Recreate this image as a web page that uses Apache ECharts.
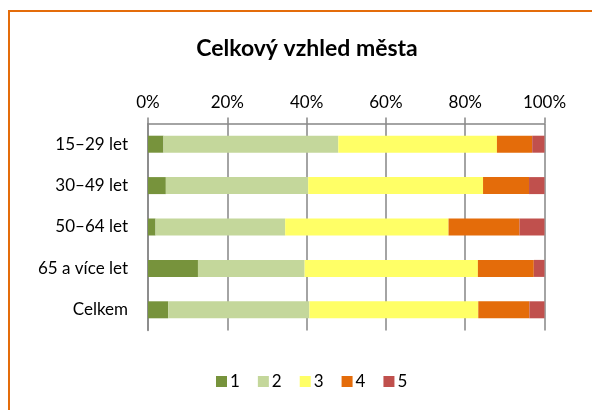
<!DOCTYPE html>
<html>
<head>
<meta charset="utf-8">
<script src="https://cdn.jsdelivr.net/npm/echarts@6/dist/echarts.min.js"></script>
<style>
  html, body { margin: 0; padding: 0; background: #fff; }
  .frame {
    position: absolute; left: 8px; top: 10px; width: 584px; height: 400px;
    border-top: 2px solid #e46c0a; border-left: 2px solid #e46c0a;
    box-sizing: border-box;
  }
  #chart { position: absolute; left: 0; top: 0; width: 592px; height: 410px; }
</style>
</head>
<body>
<div class="frame"></div>
<div id="chart"></div>
<script>
// věkové skupiny
const categories = ["15–29 let", "30–49 let", "50–64 let", "65 a více let", "Celkem"];
// podíly hodnocení 1–5 (%)
const s1 = [3.9, 4.5, 1.9, 12.6, 5.1];
const s2 = [44.1, 35.9, 32.7, 26.9, 35.6];
const s3 = [40.0, 44.1, 41.2, 43.7, 42.6];
const s4 = [8.9, 11.6, 17.9, 14.1, 12.9];
const s5 = [3.1, 3.9, 6.3, 2.7, 3.8];
const seriesNames = ["1", "2", "3", "4", "5"];
const colors = ["#77933c", "#c4d79b", "#ffff66", "#e46c0a", "#c0504d"];

const font = "Lato, 'Open Sans', sans-serif";
const allData = [s1, s2, s3, s4, s5];

const chart = echarts.init(document.getElementById("chart"));
chart.setOption({
  animation: false,
  title: {
    text: "Celkový vzhled města",
    left: 302, top: 32, textAlign: "center",
    textStyle: { fontFamily: font, fontSize: 23, fontWeight: "bold", color: "#000" }
  },
  legend: {
    data: seriesNames,
    bottom: 15, left: 211,
    itemWidth: 11, itemHeight: 11, itemGap: 18,
    icon: "rect",
    textStyle: { fontFamily: font, fontSize: 17, color: "#000", padding: [0, 0, 0, -2] }
  },
  grid: { left: 148, right: 47.5, top: 123.5, bottom: 79.5 },
  xAxis: {
    type: "value", position: "top", min: 0, max: 100, interval: 20,
    axisLabel: { formatter: "{value}%", fontFamily: font, fontSize: 17, color: "#000", margin: 12 },
    axisLine: { show: true, lineStyle: { color: "#868686", width: 1.5 } },
    axisTick: { show: true, length: 6, lineStyle: { color: "#868686", width: 1.5 } },
    splitLine: { show: true, lineStyle: { color: "#868686", width: 1.5 } }
  },
  yAxis: {
    type: "category", data: categories, inverse: true,
    axisLabel: { fontFamily: font, fontSize: 17, color: "#000", margin: 20 },
    axisLine: { show: true, lineStyle: { color: "#868686", width: 1.5 } },
    axisTick: { show: false }
  },
  series: allData.map((d, i) => ({
    name: seriesNames[i], type: "bar", stack: "total", data: d,
    barWidth: 17, itemStyle: { color: colors[i] }
  }))
});
</script>
</body>
</html>
